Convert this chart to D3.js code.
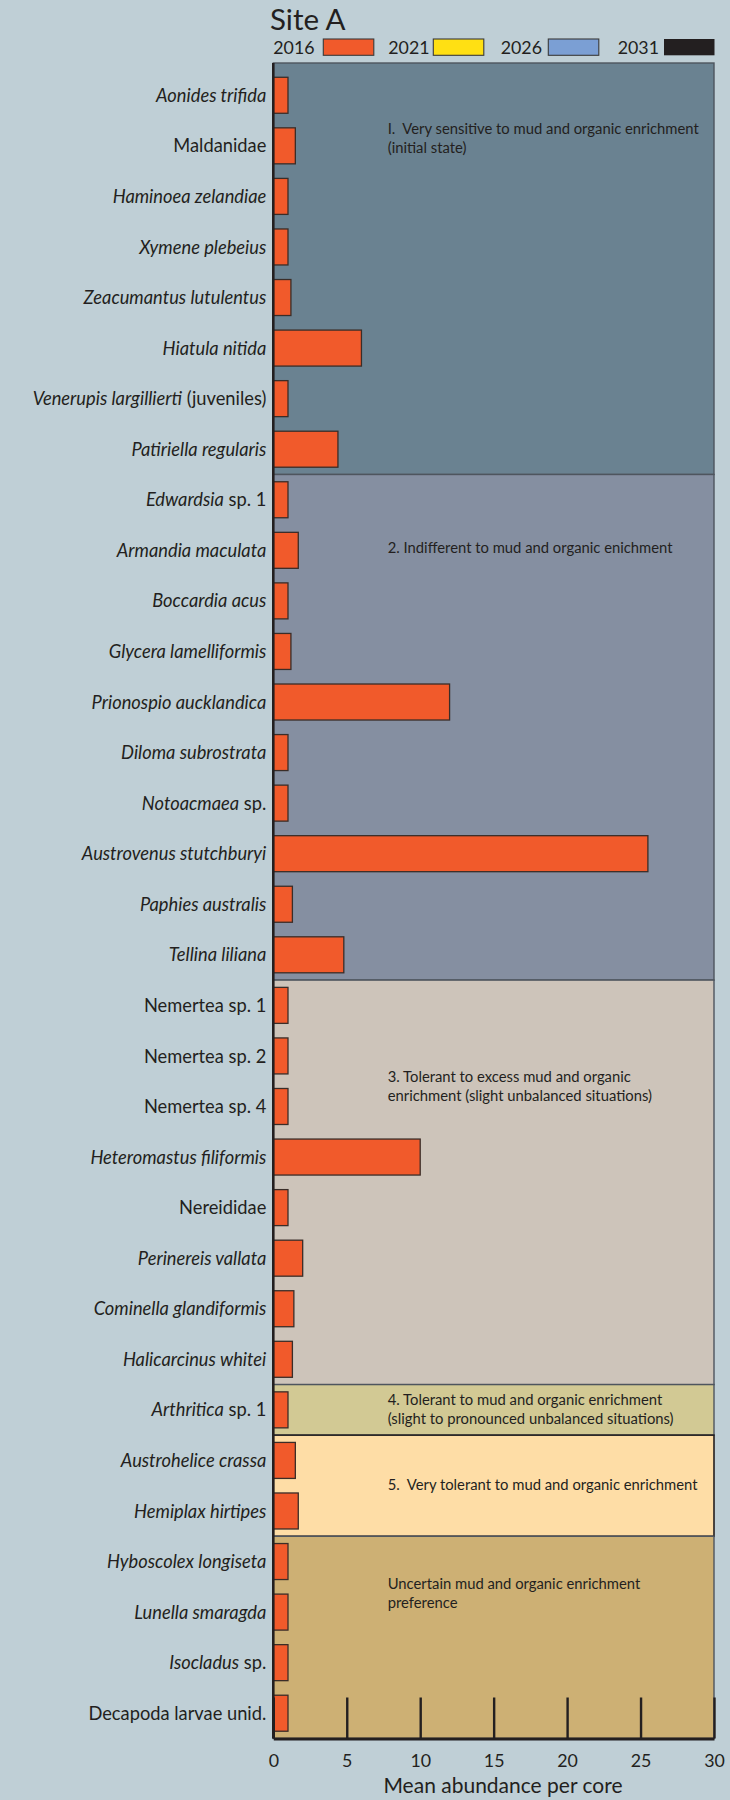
<!DOCTYPE html>
<html>
<head>
<meta charset="utf-8">
<script src="https://cdn.jsdelivr.net/npm/d3@7"></script>
<style>
  html, body { margin: 0; padding: 0; background: #bfcfd6; }
  svg { display: block; }
  text { font-family: Lato, "Noto Sans", sans-serif; fill: #231f20; }
  .note { white-space: pre; }
</style>
</head>
<body>
<svg id="chart" width="730" height="1800"></svg>
<script>
// Species, top to bottom
const categories = [
  "Aonides trifida", "Maldanidae", "Haminoea zelandiae", "Xymene plebeius",
  "Zeacumantus lutulentus", "Hiatula nitida", "Venerupis largillierti (juveniles)",
  "Patiriella regularis",
  "Edwardsia sp. 1", "Armandia maculata", "Boccardia acus", "Glycera lamelliformis",
  "Prionospio aucklandica", "Diloma subrostrata", "Notoacmaea sp.",
  "Austrovenus stutchburyi", "Paphies australis", "Tellina liliana",
  "Nemertea sp. 1", "Nemertea sp. 2", "Nemertea sp. 4", "Heteromastus filiformis",
  "Nereididae", "Perinereis vallata", "Cominella glandiformis", "Halicarcinus whitei",
  "Arthritica sp. 1",
  "Austrohelice crassa", "Hemiplax hirtipes",
  "Hyboscolex longiseta", "Lunella smaragda", "Isocladus sp.", "Decapoda larvae unid."
];

// Italic (genus / species) part of each name; the remainder is set upright
const italicParts = [
  "Aonides trifida", "", "Haminoea zelandiae", "Xymene plebeius",
  "Zeacumantus lutulentus", "Hiatula nitida", "Venerupis largillierti",
  "Patiriella regularis",
  "Edwardsia", "Armandia maculata", "Boccardia acus", "Glycera lamelliformis",
  "Prionospio aucklandica", "Diloma subrostrata", "Notoacmaea",
  "Austrovenus stutchburyi", "Paphies australis", "Tellina liliana",
  "", "", "", "Heteromastus filiformis",
  "", "Perinereis vallata", "Cominella glandiformis", "Halicarcinus whitei",
  "Arthritica",
  "Austrohelice crassa", "Hemiplax hirtipes",
  "Hyboscolex longiseta", "Lunella smaragda", "Isocladus", ""
];

// Mean abundance per core, 2016 survey
const values2016 = [
  1, 1.5, 1, 1, 1.2, 6.0, 1, 4.4,
  1, 1.7, 1, 1.2, 12, 1, 1, 25.5, 1.3, 4.8,
  1, 1, 1, 10, 1, 2, 1.4, 1.3,
  1,
  1.5, 1.7,
  1, 1, 1, 1
];

// Survey years shown in the legend
const years = ["2016", "2021", "2026", "2031"];
const yearColors = ["#f15a2b", "#ffe013", "#7b9fd4", "#231f20"];

// Mud / organic enrichment sensitivity groups
const groupSizes = [8, 10, 8, 1, 2, 4];
const groupLabels = [
  ["I.  Very sensitive to mud and organic enrichment", "(initial state)"],
  ["2. Indifferent to mud and organic enichment"],
  ["3. Tolerant to excess mud and organic", "enrichment (slight unbalanced situations)"],
  ["4. Tolerant to mud and organic enrichment", "(slight to pronounced unbalanced situations)"],
  ["5.  Very tolerant to mud and organic enrichment"],
  ["Uncertain mud and organic enrichment", "preference"]
];
const groupColors = ["#6a8291", "#858fa1", "#cdc4ba", "#d2c994", "#fedda6", "#cdb074"];

const xTicks = [0, 5, 10, 15, 20, 25, 30];

// ---- layout ----
const svg = d3.select("#chart");
const plotLeft = 273.3, plotRight = 714, plotTop = 63, plotBottom = 1738.5;
const bandTop = 70;

const x = d3.scaleLinear().domain([0, 30]).range([plotLeft, plotRight]);
const y = d3.scaleBand().domain(categories).range([bandTop, plotBottom]).paddingInner(0.288).paddingOuter(0.144);
const step = y.step();

// where each group's note sits, in rows from the group's first row
const labelRowOffset = [0.86, 0.95, 1.6, 0, 0.48, 0.63];

// ---- group panels ----
let start = 0;
const groups = groupSizes.map((n, i) => {
  const g = { i, first: start, last: start + n - 1 };
  start += n;
  return g;
});

const panelG = svg.append("g");
groups.forEach(g => {
  const top = g.i === 0 ? plotTop : y(categories[g.first]) - step * 0.144;
  const bottom = g.i === groups.length - 1 ? plotBottom : y(categories[g.last]) + y.bandwidth() + step * 0.144;
  panelG.append("rect")
    .attr("x", plotLeft).attr("y", top)
    .attr("width", plotRight - plotLeft).attr("height", bottom - top)
    .attr("fill", groupColors[g.i])
    .attr("stroke", g.i === 4 ? "#231f20" : "#4e555e")
    .attr("stroke-width", g.i === 4 ? 1.6 : 1.4);
});

// group notes
groups.forEach(g => {
  const lines = groupLabels[g.i];
  const cy = y(categories[g.first]) + y.bandwidth() / 2 + labelRowOffset[g.i] * step;
  const lh = 18.8;
  const t = svg.append("text")
    .attr("class", "note")
    .attr("x", 387.7)
    .attr("font-size", 14.8)
    .attr("fill", "#231f20");
  lines.forEach((line, k) => {
    t.append("tspan")
      .attr("x", 387.7)
      .attr("y", cy - (lines.length - 1) * lh / 2 + k * lh + 5)
      .text(line);
  });
});

// ---- bars ----
svg.append("g").selectAll("rect")
  .data(categories)
  .join("rect")
  .attr("x", x(0))
  .attr("y", d => y(d))
  .attr("width", (d, i) => x(values2016[i]) - x(0))
  .attr("height", y.bandwidth())
  .attr("fill", yearColors[0])
  .attr("stroke", "#3a2d28")
  .attr("stroke-width", 1.3);

// ---- y axis (species names) ----
const yAxis = svg.append("g")
  .attr("transform", `translate(${plotLeft},0)`)
  .call(d3.axisLeft(y).tickSize(0).tickPadding(7));
yAxis.select(".domain").remove();
yAxis.selectAll(".tick text")
  .attr("font-size", 18.3)
  .attr("font-family", "Lato, 'Noto Sans', sans-serif")
  .attr("fill", "#231f20")
  .attr("dy", "0.36em")
  .each(function (d) {
    const el = d3.select(this);
    const idx = categories.indexOf(d);
    const it = italicParts[idx];
    const rest = d.slice(it.length);
    el.text(null);
    if (it) el.append("tspan").attr("font-style", "italic").text(it);
    if (rest) el.append("tspan").text(rest);
  });

svg.append("line")
  .attr("x1", plotLeft).attr("x2", plotLeft)
  .attr("y1", plotTop).attr("y2", plotBottom)
  .attr("stroke", "#231f20").attr("stroke-width", 2.6);

// ---- x axis ----
const xAxis = svg.append("g")
  .attr("transform", `translate(0,${plotBottom})`)
  .call(d3.axisBottom(x).tickValues(xTicks).tickSizeInner(-41).tickSizeOuter(0).tickPadding(16));
xAxis.select(".domain").attr("stroke", "#231f20").attr("stroke-width", 3);
xAxis.selectAll(".tick line").attr("stroke", "#231f20").attr("stroke-width", 2.4);
xAxis.selectAll(".tick text")
  .attr("font-size", 17.8)
  .attr("font-family", "Lato, 'Noto Sans', sans-serif")
  .attr("fill", "#231f20");

svg.append("text")
  .attr("x", 503).attr("y", 1793)
  .attr("text-anchor", "middle")
  .attr("font-size", 21)
  .text("Mean abundance per core");

// ---- title & legend ----
svg.append("text")
  .attr("x", 270).attr("y", 30)
  .attr("font-size", 29.5)
  .text("Site A");

const legendText = [273.3, 388.3, 500.7, 617.7];
const legendSwatch = [323.3, 433.3, 548.3, 664];
const legend = svg.append("g");
years.forEach((yr, i) => {
  legend.append("text")
    .attr("x", legendText[i]).attr("y", 54)
    .attr("font-size", 17.8)
    .text(yr);
  legend.append("rect")
    .attr("x", legendSwatch[i]).attr("y", 39)
    .attr("width", 50.5).attr("height", 16.3)
    .attr("fill", yearColors[i])
    .attr("stroke", i === 3 ? "none" : "#3a3a3a")
    .attr("stroke-width", 1.1);
});
</script>
</body>
</html>
